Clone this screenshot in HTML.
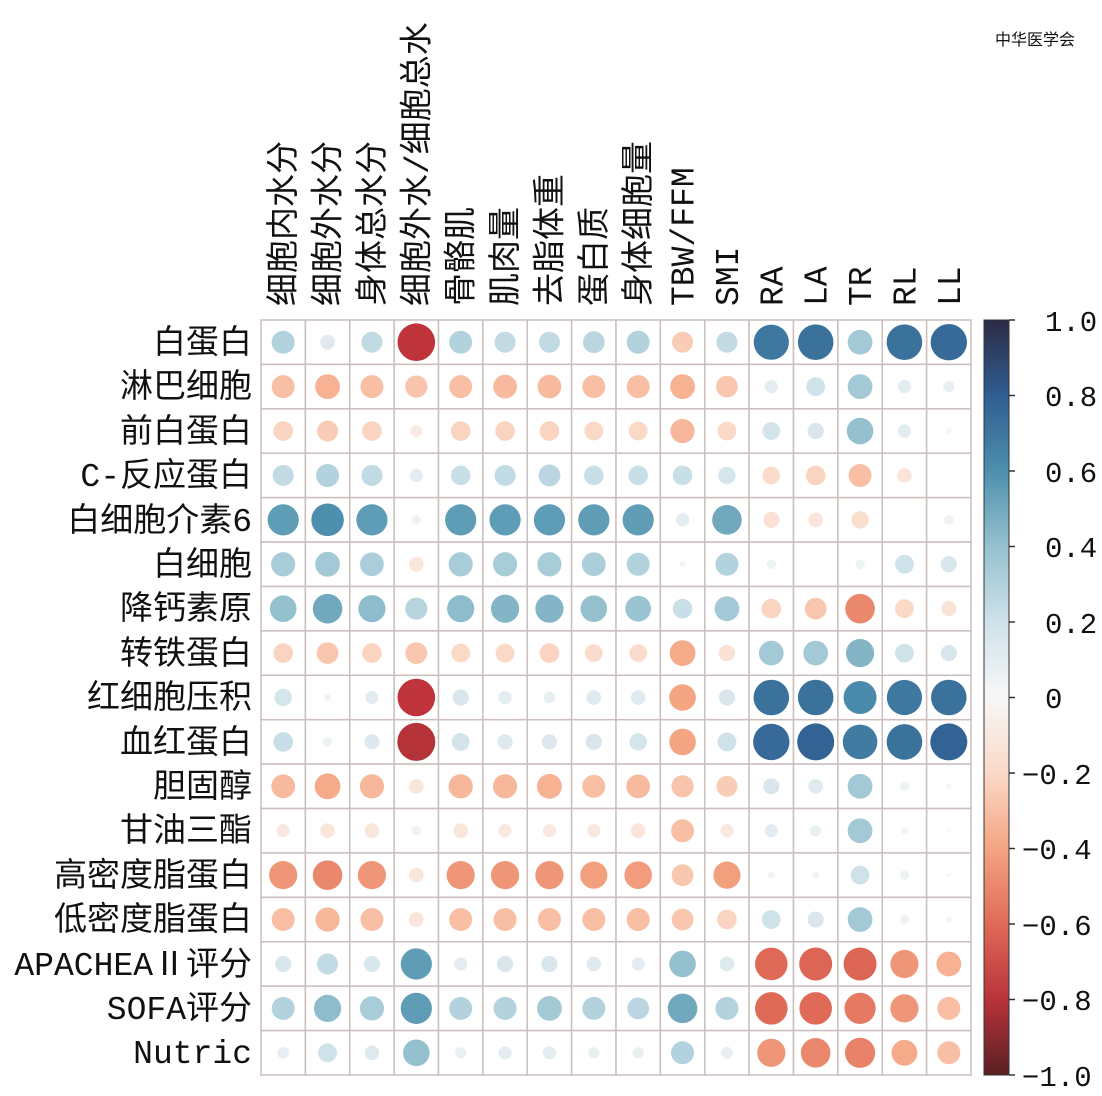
<!DOCTYPE html>
<html><head><meta charset="utf-8"><style>
body{margin:0;background:#fff;}
svg text{font-family:"Liberation Mono","Noto Sans CJK SC",monospace;fill:#111;}
</style></head><body>
<svg id="s" width="1102" height="1091" viewBox="0 0 1102 1091" xmlns="http://www.w3.org/2000/svg">
<defs><linearGradient id="cb" x1="0" y1="1" x2="0" y2="0">
<stop offset="0" stop-color="#5a1f22"/><stop offset="0.1" stop-color="#b8333a"/><stop offset="0.2" stop-color="#e06a58"/><stop offset="0.3" stop-color="#f4a582"/><stop offset="0.4" stop-color="#fbd9c7"/><stop offset="0.5" stop-color="#f7f7f7"/><stop offset="0.6" stop-color="#cfe2ea"/><stop offset="0.7" stop-color="#95c1cf"/><stop offset="0.8" stop-color="#4d8fad"/><stop offset="0.9" stop-color="#2f5e91"/><stop offset="1" stop-color="#2c2a45"/>
</linearGradient></defs>
<g id="grid"></g>
<rect x="984" y="320" width="25" height="755" fill="url(#cb)" stroke="#333" stroke-width="1"/>
<g font-size="29">
<text x="1045" y="331">1.0</text><text x="1045" y="406">0.8</text><text x="1045" y="482">0.6</text><text x="1045" y="557">0.4</text><text x="1045" y="633">0.2</text><text x="1045" y="708">0</text><text x="1022" y="784">−0.2</text><text x="1022" y="859">−0.4</text><text x="1022" y="935">−0.6</text><text x="1022" y="1010">−0.8</text><text x="1022" y="1086">−1.0</text>
</g>
<g stroke="#333" stroke-width="1.5">
<line x1="1009" y1="320" x2="1015" y2="320"/><line x1="1009" y1="395.5" x2="1015" y2="395.5"/><line x1="1009" y1="471" x2="1015" y2="471"/><line x1="1009" y1="546.5" x2="1015" y2="546.5"/><line x1="1009" y1="622" x2="1015" y2="622"/><line x1="1009" y1="697.5" x2="1015" y2="697.5"/><line x1="1009" y1="773" x2="1015" y2="773"/><line x1="1009" y1="848.5" x2="1015" y2="848.5"/><line x1="1009" y1="924" x2="1015" y2="924"/><line x1="1009" y1="999.5" x2="1015" y2="999.5"/><line x1="1009" y1="1075" x2="1015" y2="1075"/>
</g>
<g font-size="33" text-anchor="end">
<text x="252" y="353">白蛋白</text><text x="252" y="397">淋巴细胞</text><text x="252" y="442">前白蛋白</text><text x="252" y="486">C-反应蛋白</text><text x="252" y="531">白细胞介素6</text><text x="252" y="575">白细胞</text><text x="252" y="619">降钙素原</text><text x="252" y="664">转铁蛋白</text><text x="252" y="708">红细胞压积</text><text x="252" y="753">血红蛋白</text><text x="252" y="797">胆固醇</text><text x="252" y="841">甘油三酯</text><text x="252" y="886">高密度脂蛋白</text><text x="252" y="930">低密度脂蛋白</text><text x="252" y="975">APACHEAⅡ评分</text><text x="252" y="1019">SOFA评分</text><text x="252" y="1063">Nutric</text>
</g>
<g font-size="33" id="cols"></g>
<text x="1075" y="45" font-size="16" fill="#bbb" text-anchor="end">中华医学会</text>
</svg>
<script>
var cols=["细胞内水分","细胞外水分","身体总水分","细胞外水/细胞总水","骨骼肌","肌肉量","去脂体重","蛋白质","身体细胞量","TBW/FFM","SMI","RA","LA","TR","RL","LL"];
var V=[
[.3,.12,.25,-.8,.3,.25,.25,.27,.3,-.25,.25,.7,.72,.35,.72,.75],
[-.3,-.35,-.3,-.28,-.3,-.32,-.32,-.3,-.3,-.35,-.27,.1,.2,.35,.1,.07],
[-.22,-.25,-.22,-.08,-.22,-.22,-.22,-.2,-.2,-.33,-.2,.18,.15,.4,.1,.02],
[.25,.3,.25,.1,.22,.25,.27,.22,.22,.22,.17,-.18,-.22,-.3,-.12,0],
[.55,.6,.55,.05,.55,.55,.55,.55,.55,.1,.5,-.15,-.12,-.17,0,.05],
[.33,.35,.32,-.12,.33,.33,.33,.32,.3,.02,.3,.05,0,.05,.2,.15],
[.4,.5,.42,.28,.42,.45,.45,.4,.38,.22,.35,-.22,-.27,-.5,-.2,-.13],
[-.22,-.27,-.22,-.27,-.2,-.2,-.22,-.18,-.18,-.38,-.15,.35,.35,.45,.2,.15],
[.17,.03,.1,-.8,.15,.1,.08,.12,.12,-.4,.15,.72,.72,.62,.7,.72],
[.22,.05,.13,-.82,.18,.13,.13,.15,.17,-.4,.2,.75,.78,.68,.72,.78],
[-.32,-.38,-.33,-.12,-.33,-.33,-.35,-.3,-.32,-.28,-.25,.15,.12,.35,.05,.02],
[-.1,-.12,-.12,-.05,-.12,-.1,-.1,-.1,-.12,-.3,-.1,.1,.07,.35,.03,.01],
[-.45,-.5,-.45,-.12,-.45,-.45,-.45,-.42,-.43,-.27,-.42,.03,.03,.2,.05,.01],
[-.3,-.33,-.3,-.12,-.3,-.3,-.3,-.3,-.3,-.27,-.22,.2,.15,.35,.05,.02],
[.15,.25,.15,.55,.1,.15,.15,.12,.1,.4,.12,-.6,-.62,-.62,-.45,-.35],
[.3,.42,.33,.55,.3,.3,.35,.3,.27,.5,.3,-.6,-.6,-.55,-.45,-.3],
[.08,.2,.12,.4,.07,.1,.1,.07,.07,.3,.08,-.45,-.5,-.52,-.38,-.3]];
var stops=[[-1,[90,31,34]],[-.8,[190,52,58]],[-.6,[224,106,88]],[-.4,[244,165,130]],[-.2,[251,217,199]],[0,[247,247,247]],[.2,[207,226,234]],[.4,[149,193,207]],[.6,[77,143,173]],[.8,[47,94,145]],[1,[44,42,69]]];
function col(v){for(var i=0;i<stops.length-1;i++){var a=stops[i],b=stops[i+1];if(v<=b[0]){var t=(v-a[0])/(b[0]-a[0]);return "rgb("+a[1].map(function(x,k){return Math.round(x+(b[1][k]-x)*t)}).join(",")+")";}}return "rgb(44,42,69)";}
var x0=261,y0=320,cw=710/16,ch=755/17,h="";
for(var r=0;r<17;r++)for(var c=0;c<16;c++){h+='<rect x="'+(x0+c*cw)+'" y="'+(y0+r*ch)+'" width="'+cw+'" height="'+ch+'" fill="#fff" stroke="#cbbfbd" stroke-width="1.5"/>';}
for(var r=0;r<17;r++)for(var c=0;c<16;c++){var v=V[r][c];if(Math.abs(v)<0.005)continue;var rad=21*Math.sqrt(Math.abs(v));h+='<circle cx="'+(x0+(c+.5)*cw)+'" cy="'+(y0+(r+.5)*ch)+'" r="'+rad.toFixed(1)+'" fill="'+col(v)+'"/>';}
document.getElementById("grid").innerHTML=h;
var g="";for(var c=0;c<16;c++){var x=x0+(c+.5)*cw+11;g+='<text transform="translate('+x+',306) rotate(-90)">'+cols[c]+'</text>';}
document.getElementById("cols").innerHTML=g;
</script>
</body></html>
